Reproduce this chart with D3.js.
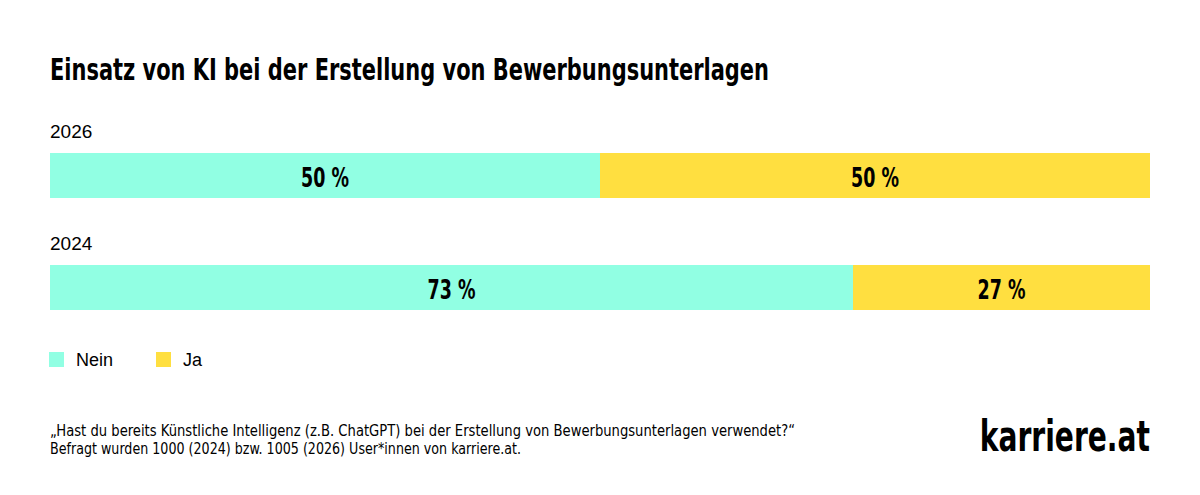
<!DOCTYPE html>
<html><head><meta charset="utf-8">
<script src="https://cdn.jsdelivr.net/npm/d3@7"></script>
<style>body{margin:0;background:#fff}svg{display:block}</style>
</head><body>
<svg id="c" width="1200" height="495"></svg>
<script>
const years = ["2026", "2024"];
const nein = [50, 73];
const ja = [50, 27];
const seriesNames = ["Nein", "Ja"];
const colors = ["#91FFE3", "#FFDF40"];
const title = "Einsatz von KI bei der Erstellung von Bewerbungsunterlagen";
const notes = ["„Hast du bereits Künstliche Intelligenz (z.B. ChatGPT) bei der Erstellung von Bewerbungsunterlagen verwendet?“",
               "Befragt wurden 1000 (2024) bzw. 1005 (2026) User*innen von karriere.at."];

const svg = d3.select("#c");
const cond = "'Liberation Sans Narrow','DejaVu Sans Condensed','Arial Narrow',sans-serif";
const reg = "'Liberation Sans',Arial,sans-serif";

svg.append("text").attr("x", 50).attr("y", 80).attr("font-family", cond)
  .attr("font-weight", 700).attr("font-size", 30).attr("textLength", 719)
  .attr("lengthAdjust", "spacingAndGlyphs").attr("fill", "#000").text(title);

const x = d3.scaleLinear().domain([0, 100]).range([50, 1150]);
const rowY = d3.scaleBand().domain(years).range([118, 342]).paddingInner(0);
const data = years.map((y, i) => ({year: y, vals: [nein[i], ja[i]]}));

const rows = svg.selectAll("g.row").data(data).join("g").attr("class", "row")
  .attr("transform", d => `translate(0,${rowY(d.year)})`);
rows.append("text").attr("x", 50).attr("y", 20).attr("font-family", reg)
  .attr("font-size", 19).attr("fill", "#000").text(d => d.year);

rows.each(function(d) {
  const g = d3.select(this);
  let cum = 0;
  d.vals.forEach((v, j) => {
    const x0 = x(cum), x1 = x(cum + v);
    g.append("rect").attr("x", x0).attr("y", 35).attr("width", x1 - x0).attr("height", 45)
      .attr("fill", colors[j]);
    const cx = (x0 + x1) / 2;
    g.append("text").attr("transform", `translate(${cx},69) scale(0.72,1)`)
      .attr("text-anchor", "middle")
      .attr("font-family", cond).attr("font-weight", 700).attr("font-size", 27)
      .attr("fill", "#000").text(v + " %");
    cum += v;
  });
});

const legX = [49, 156];
seriesNames.forEach((s, i) => {
  svg.append("rect").attr("x", legX[i]).attr("y", 352).attr("width", 15).attr("height", 15).attr("fill", colors[i]);
  svg.append("text").attr("x", legX[i] + 27).attr("y", 366).attr("font-family", reg)
    .attr("font-size", 18).attr("fill", "#000").text(s);
});

svg.append("text").attr("x", 50).attr("y", 436).attr("font-family", cond).attr("font-size", 15)
  .attr("textLength", 745).attr("lengthAdjust", "spacingAndGlyphs").attr("fill", "#000").text(notes[0]);
svg.append("text").attr("x", 50).attr("y", 454).attr("font-family", cond).attr("font-size", 15)
  .attr("textLength", 471).attr("lengthAdjust", "spacingAndGlyphs").attr("fill", "#000").text(notes[1]);

svg.append("text").attr("transform", "translate(1150,451) scale(0.745,1)").attr("text-anchor", "end")
  .attr("font-family", cond).attr("font-weight", 700)
  .attr("font-size", 42).attr("fill", "#000").text("karriere.at");
</script>
</body></html>
